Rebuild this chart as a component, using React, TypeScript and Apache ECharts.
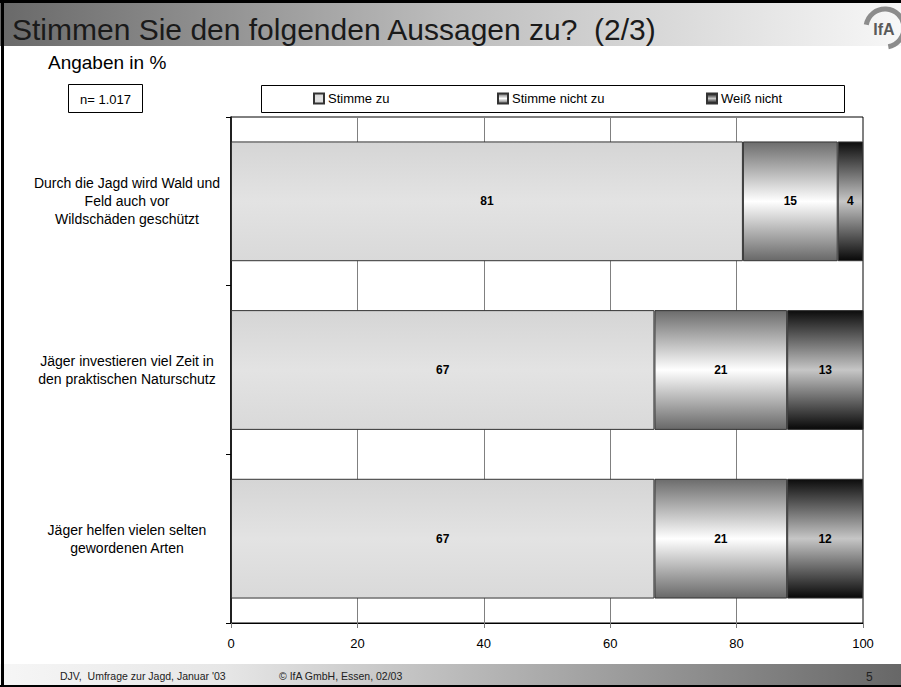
import React, { useEffect, useRef } from 'react';
import * as echarts from 'echarts';

const FONT = '"Liberation Sans", Arial, Helvetica, sans-serif';

// Survey statements (top to bottom)
const categories = [
  'Durch die Jagd wird Wald und\nFeld auch vor\nWildschäden geschützt',
  'Jäger investieren viel Zeit in\nden praktischen Naturschutz',
  'Jäger helfen vielen selten\ngewordenen Arten',
];

// Answer shares in percent
const stimmeZu = [81, 67, 67];
const stimmeNichtZu = [15, 21, 21];
const weissNicht = [4, 13, 12];

const seriesNames = ['Stimme zu', 'Stimme nicht zu', 'Weiß nicht'];

// Value axis
const axisMin = 0;
const axisMax = 100;
const axisStep = 20;

const vGrad = (stops: [number, string][]) =>
  new echarts.graphic.LinearGradient(
    0, 0, 0, 1,
    stops.map(([offset, color]) => ({ offset, color }))
  );

const fills = [
  vGrad([[0, '#d5d5d5'], [0.5, '#e3e3e3'], [1, '#d9d9d9']]),
  vGrad([[0, '#6c6c6c'], [0.5, '#ffffff'], [1, '#686868']]),
  vGrad([[0, '#0c0c0c'], [0.5, '#c6c6c6'], [1, '#080808']]),
];

const seriesData = [stimmeZu, stimmeNichtZu, weissNicht];

export default function App() {
  const ref = useRef<HTMLDivElement>(null);

  useEffect(() => {
    document.body.style.margin = '0';
    const chart = echarts.init(ref.current!, null, { renderer: 'svg' });

    const legendX = [313, 497, 706];

    chart.setOption({
      animation: false,
      backgroundColor: '#ffffff',
      textStyle: { fontFamily: FONT },
      grid: {
        left: 231,
        right: 38,
        top: 117,
        bottom: 64,
        show: true,
        borderColor: '#000000',
        borderWidth: 1,
        backgroundColor: 'transparent',
      },
      legend: seriesNames.map((name, i) => ({
        data: [name],
        left: legendX[i],
        top: 92,
        icon: 'rect',
        itemWidth: 10,
        itemHeight: 10,
        itemGap: 4,
        padding: 0,
        selectedMode: false,
        textStyle: { fontFamily: FONT, fontSize: 13, color: '#000', padding: [0, 0, 0, -1] },
      })),
      xAxis: {
        type: 'value',
        min: axisMin,
        max: axisMax,
        interval: axisStep,
        axisLine: { show: true, lineStyle: { color: '#000', width: 1 } },
        axisTick: { show: true, length: 5, lineStyle: { color: '#7a7a7a' } },
        axisLabel: { color: '#000', fontSize: 13, fontFamily: FONT, margin: 14 },
        splitLine: { show: true, lineStyle: { color: '#808080', width: 1 } },
      },
      yAxis: {
        type: 'category',
        inverse: true,
        data: categories,
        axisLine: { show: true, lineStyle: { color: '#000', width: 1.5 } },
        axisTick: { show: true, length: 5, lineStyle: { color: '#000' } },
        axisLabel: {
          color: '#000',
          fontSize: 14,
          fontFamily: FONT,
          align: 'center',
          margin: 104,
          lineHeight: 18,
        },
        splitLine: { show: false },
      },
      series: seriesNames.map((name, i) => ({
        name,
        type: 'bar',
        stack: 'total',
        barWidth: '71%',
        clip: true,
        data: seriesData[i],
        itemStyle: {
          color: fills[i],
          borderColor: '#333333',
          borderWidth: 1,
        },
        label: {
          show: true,
          position: 'inside',
          color: '#000',
          fontWeight: 'bold',
          fontSize: 12,
          fontFamily: FONT,
        },
      })),
      graphic: [
        // title band
        {
          type: 'rect',
          z: -10,
          shape: { x: 0, y: 3, width: 901, height: 43 },
          style: {
            fill: new echarts.graphic.LinearGradient(0, 0, 1, 0, [
              { offset: 0, color: '#696969' },
              { offset: 0.5, color: '#bdbdbd' },
              { offset: 1, color: '#f7f7f7' },
            ]),
          },
        },
        // footer band
        {
          type: 'rect',
          z: -10,
          shape: { x: 0, y: 664, width: 901, height: 21 },
          style: {
            fill: new echarts.graphic.LinearGradient(0, 0, 1, 0, [
              { offset: 0, color: '#f6f6f6' },
              { offset: 0.25, color: '#e6e6e6' },
              { offset: 0.6, color: '#ababab' },
              { offset: 1, color: '#676767' },
            ]),
          },
        },
        // page frame
        { type: 'rect', z: 5, shape: { x: 0, y: 0, width: 901, height: 3 }, style: { fill: '#000' } },
        { type: 'rect', z: 5, shape: { x: 1, y: 0, width: 3, height: 687 }, style: { fill: '#000' } },
        { type: 'rect', z: 5, shape: { x: 0, y: 685, width: 901, height: 2 }, style: { fill: '#000' } },
        // title
        {
          type: 'text',
          x: 12,
          y: 29,
          style: {
            text: 'Stimmen Sie den folgenden Aussagen zu?  (2/3)',
            fontFamily: FONT,
            fontSize: 30,
            fill: '#1a1a1a',
            verticalAlign: 'middle',
            textShadowColor: 'rgba(220,220,220,0.9)',
            textShadowOffsetX: 1,
            textShadowOffsetY: 1,
            textShadowBlur: 0,
          },
        },
        // logo
        {
          type: 'arc',
          shape: {
            cx: 885,
            cy: 28,
            r: 19,
            startAngle: (190 * Math.PI) / 180,
            endAngle: (440 * Math.PI) / 180,
            clockwise: true,
          },
          style: { stroke: '#8c8c8c', lineWidth: 5, fill: null },
        },
        {
          type: 'text',
          x: 884,
          y: 29,
          style: {
            text: 'IfA',
            fontFamily: FONT,
            fontSize: 16,
            fontWeight: 'bold',
            fill: '#5a5a5a',
            align: 'center',
            verticalAlign: 'middle',
          },
        },
        // subtitle
        {
          type: 'text',
          x: 48,
          y: 62,
          style: { text: 'Angaben in %', fontFamily: FONT, fontSize: 19, fill: '#000', verticalAlign: 'middle' },
        },
        // sample size box
        {
          type: 'rect',
          shape: { x: 68.5, y: 84.5, width: 74, height: 28 },
          style: { fill: '#fff', stroke: '#000', lineWidth: 1 },
        },
        {
          type: 'text',
          x: 105.5,
          y: 99,
          style: { text: 'n= 1.017', fontFamily: FONT, fontSize: 13, fill: '#000', align: 'center', verticalAlign: 'middle' },
        },
        // legend frame
        {
          type: 'rect',
          z: -1,
          shape: { x: 261.5, y: 85.5, width: 583, height: 27 },
          style: { fill: '#fff', stroke: '#000', lineWidth: 1 },
        },
        // footer texts
        {
          type: 'text',
          x: 60,
          y: 676,
          style: { text: "DJV,  Umfrage zur Jagd, Januar '03", fontFamily: FONT, fontSize: 10.5, fill: '#222', verticalAlign: 'middle' },
        },
        {
          type: 'text',
          x: 279,
          y: 676,
          style: { text: '© IfA GmbH, Essen, 02/03', fontFamily: FONT, fontSize: 10.5, fill: '#222', verticalAlign: 'middle' },
        },
        {
          type: 'text',
          x: 866,
          y: 677,
          style: { text: '5', fontFamily: FONT, fontSize: 12, fill: '#222', verticalAlign: 'middle' },
        },
      ],
    });

    return () => chart.dispose();
  }, []);

  return <div ref={ref} style={{ width: 901, height: 687 }} />;
}
